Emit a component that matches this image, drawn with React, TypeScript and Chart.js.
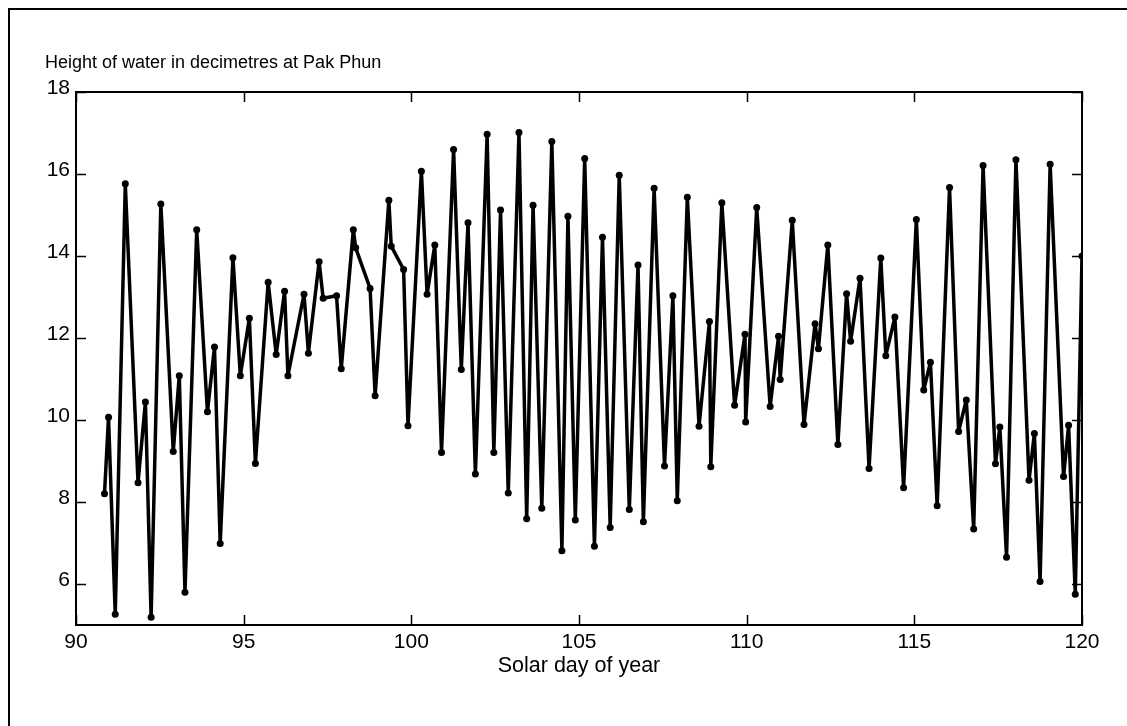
import React, { useEffect, useRef } from 'react';
import { Chart, registerables } from 'chart.js';

Chart.register(...registerables);

const days: number[] = [
  90.85, 90.97, 91.17, 91.47, 91.85, 92.07, 92.24, 92.53, 92.9, 93.08,
  93.25, 93.6, 93.92, 94.13, 94.3, 94.68, 94.9, 95.17, 95.35, 95.73,
  95.97, 96.22, 96.32, 96.8, 96.93, 97.25, 97.37, 97.77, 97.91, 98.27,
  98.34, 98.77, 98.92, 99.33, 99.4, 99.77, 99.9, 100.3, 100.47, 100.7,
  100.9, 101.26, 101.49, 101.69, 101.91, 102.26, 102.46, 102.66, 102.89, 103.21,
  103.44, 103.63, 103.89, 104.19, 104.49, 104.67, 104.89, 105.17, 105.46, 105.7,
  105.93, 106.2, 106.5, 106.76, 106.92, 107.24, 107.55, 107.8, 107.93, 108.23,
  108.58, 108.89, 108.93, 109.26, 109.64, 109.95, 109.97, 110.3, 110.7, 110.95,
  111.0, 111.36, 111.71, 112.04, 112.14, 112.42, 112.72, 112.98, 113.1, 113.38,
  113.65, 114.0, 114.15, 114.42, 114.68, 115.06, 115.28, 115.48, 115.68, 116.05,
  116.32, 116.55, 116.77, 117.05, 117.42, 117.55, 117.75, 118.03, 118.42, 118.58,
  118.75, 119.05, 119.45, 119.6, 119.8, 120.0,
];

const heights: number[] = [
  8.2, 10.07, 5.26, 15.76, 8.47, 10.44, 5.19, 15.27, 9.23, 11.08,
  5.8, 14.64, 10.2, 11.78, 6.99, 13.96, 11.08, 12.48, 8.94, 13.36,
  11.6, 13.14, 11.08, 13.07, 11.63, 13.86, 12.97, 13.03, 11.25, 14.64,
  14.2, 13.21, 10.59, 15.36, 14.24, 13.67, 9.86, 16.07, 13.07, 14.27,
  9.21, 16.6, 11.23, 14.81, 8.68, 16.97, 9.21, 15.12, 8.22, 17.01,
  7.59, 15.24, 7.85, 16.79, 6.81, 14.97, 7.56, 16.38, 6.92, 14.46,
  7.38, 15.97, 7.82, 13.78, 7.52, 15.65, 8.88, 13.03, 8.03, 15.43,
  9.85, 12.4, 8.86, 15.3, 10.36, 12.09, 9.95, 15.18, 10.33, 12.04,
  10.99, 14.87, 9.89, 12.35, 11.74, 14.27, 9.4, 13.08, 11.92, 13.46,
  8.82, 13.95, 11.57, 12.51, 8.35, 14.89, 10.73, 11.41, 7.91, 15.67,
  9.72, 10.49, 7.34, 16.21, 8.93, 9.83, 6.65, 16.35, 8.53, 9.67,
  6.06, 16.24, 8.62, 9.87, 5.75, 14.0,
];

const xTickValues: number[] = [90, 95, 100, 105, 110, 115, 120];
const yTickValues: number[] = [6, 8, 10, 12, 14, 16, 18];

const chartTitle = 'Height of water in decimetres at Pak Phun';
const xAxisTitle = 'Solar day of year';

const FONT = '"Liberation Sans", Arial, sans-serif';

const framePlugin = {
  id: 'matlabFrame',
  afterDatasetsDraw(chart: any) {
    const { ctx, chartArea, scales } = chart;
    const { left, right, top, bottom } = chartArea;
    const xs = scales.x;
    const ys = scales.y;
    ctx.save();
    ctx.strokeStyle = '#000';
    ctx.lineWidth = 1.5;
    ctx.beginPath();
    const tl = 10;
    xTickValues.forEach((v) => {
      const px = Math.round(xs.getPixelForValue(v)) + 0.5;
      ctx.moveTo(px, bottom);
      ctx.lineTo(px, bottom - tl);
      ctx.moveTo(px, top);
      ctx.lineTo(px, top + tl);
    });
    yTickValues.forEach((v) => {
      const py = Math.round(ys.getPixelForValue(v)) + 0.5;
      ctx.moveTo(left, py);
      ctx.lineTo(left + tl, py);
      ctx.moveTo(right, py);
      ctx.lineTo(right - tl, py);
    });
    ctx.stroke();
    ctx.lineWidth = 2;
    ctx.strokeRect(left, top, right - left, bottom - top);
    ctx.fillStyle = '#000';
    ctx.font = `18px ${FONT}`;
    ctx.textAlign = 'left';
    ctx.textBaseline = 'alphabetic';
    ctx.fillText(chartTitle, 45, 68);
    ctx.restore();
  },
};

export default function App() {
  const canvasRef = useRef<HTMLCanvasElement | null>(null);

  useEffect(() => {
    const canvas = canvasRef.current;
    if (!canvas) return;
    const points = days.map((d, i) => ({ x: d, y: heights[i] }));
    const chart = new Chart(canvas, {
      type: 'scatter',
      data: {
        datasets: [
          {
            data: points,
            showLine: true,
            borderColor: '#000',
            backgroundColor: '#000',
            borderWidth: 3.5,
            borderJoinStyle: 'round',
            borderCapStyle: 'round',
            pointRadius: 3.5,
            pointBorderWidth: 0,
            pointBackgroundColor: '#000',
            tension: 0,
          },
        ],
      },
      options: {
        animation: false,
        responsive: false,
        devicePixelRatio: 1,
        events: [],
        layout: { padding: { left: 0, top: 92, right: 45, bottom: 0 } },
        plugins: {
          legend: { display: false },
          tooltip: { enabled: false },
          title: { display: false },
        },
        scales: {
          x: {
            type: 'linear',
            min: 90,
            max: 120,
            afterFit: (scale: any) => {
              scale.height = 101;
            },
            afterBuildTicks: (scale: any) => {
              scale.ticks = xTickValues.map((v) => ({ value: v }));
            },
            grid: { display: false, drawTicks: false },
            border: { display: false },
            ticks: {
              color: '#000',
              font: { family: FONT, size: 21 },
              padding: 5,
              maxRotation: 0,
              autoSkip: false,
            },
            title: {
              display: true,
              text: xAxisTitle,
              color: '#000',
              font: { family: FONT, size: 21.5 },
              padding: { top: 0, bottom: 47 },
            },
          },
          y: {
            type: 'linear',
            min: 5,
            max: 18,
            afterFit: (scale: any) => {
              scale.width = 76;
            },
            afterBuildTicks: (scale: any) => {
              scale.ticks = yTickValues.map((v) => ({ value: v }));
            },
            grid: { display: false, drawTicks: false },
            border: { display: false },
            ticks: {
              color: '#000',
              font: { family: FONT, size: 21 },
              padding: 6,
              labelOffset: -4,
              autoSkip: false,
            },
          },
        },
      },
      plugins: [framePlugin],
    });
    return () => {
      chart.destroy();
    };
  }, []);

  return (
    <>
      <div
        style={{
          position: 'fixed',
          left: 8,
          top: 8,
          right: -10,
          bottom: -10,
          borderLeft: '2px solid #000',
          borderTop: '2px solid #000',
        }}
      />
      <canvas
        ref={canvasRef}
        width={1127}
        height={726}
        style={{ position: 'fixed', left: 0, top: 0, width: 1127, height: 726 }}
      />
    </>
  );
}
